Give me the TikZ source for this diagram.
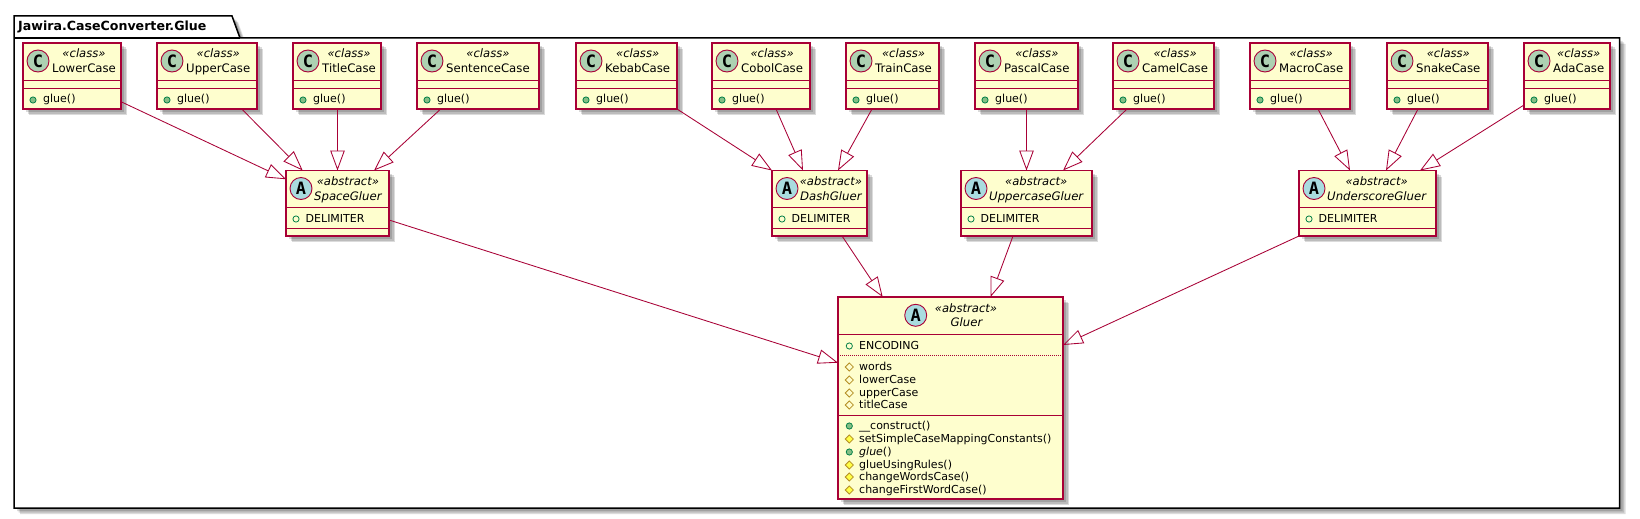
\documentclass[tikz,border=0pt]{standalone}
\usepackage{fontspec}
\setmainfont{DejaVu Sans}
\setmonofont{DejaVu Sans Mono}
\usepackage{tikz}
\usetikzlibrary{arrows.meta,backgrounds,fit,shapes.geometric}

\definecolor{umlred}{HTML}{A80036}
\definecolor{umlfill}{HTML}{FEFECE}
\definecolor{classspot}{HTML}{ADD1B2}
\definecolor{abstractspot}{HTML}{A9DCDF}
\definecolor{publine}{HTML}{038048}
\definecolor{pubfill}{HTML}{84BE84}
\definecolor{protline}{HTML}{B38D22}
\definecolor{protfill}{HTML}{FFFF44}

\tikzset{
	umlbox/.style={draw=umlred,fill=umlfill,line width=1.15pt,inner sep=0pt,outer sep=0pt},
	boxrule/.style={draw=umlred,line width=1pt},
	shadowtone/.style={fill=black,opacity=.14},
	spotbase/.style={circle,draw=umlred,line width=.9pt,minimum size=22pt,inner sep=0pt,font=\ttfamily\bfseries\fontsize{17}{17}\selectfont},
	classspotnode/.style={spotbase,fill=classspot},
	abstractspotnode/.style={spotbase,fill=abstractspot},
	classname/.style={anchor=base west,inner sep=0pt,font=\fontsize{11.7}{12}\selectfont},
	abstractname/.style={anchor=base west,inner sep=0pt,font=\itshape\fontsize{11.7}{12}\selectfont},
	stereotype/.style={anchor=base,inner sep=0pt,font=\itshape\fontsize{11.6}{12}\selectfont},
	membertext/.style={anchor=base west,inner sep=0pt,font=\fontsize{11}{12}\selectfont},
	pubfield/.style={circle,draw=publine,line width=.8pt,minimum size=6.2pt,inner sep=0pt},
	pubmethod/.style={pubfield,fill=pubfill},
	protfield/.style={diamond,aspect=1,draw=protline,line width=.8pt,minimum size=8.4pt,inner sep=0pt},
	protmethod/.style={protfield,fill=protfill},
	inherits/.style={draw=umlred,line width=.85pt,-{Triangle[open,length=20pt,width=14.5pt]}},
}

% id, left, right, name
\newcommand{\caseclass}[4]{
	\node[umlbox,fit={(#2,43) (#3,109)}] (#1) {};
	\begin{scope}[on background layer]
		\foreach \b in {3,4.5,6}
			\fill[shadowtone] ([shift={(\b,\b)}]#1.north west) rectangle ([shift={(\b,\b)}]#1.south east);
	\end{scope}
	\node[classspotnode] (#1-spot) at ([shift={(15,18)}]#1.north west) {C};
	\node[classname] (#1-name) at ([shift={(29,29.7)}]#1.north west) {#4};
	\node[stereotype] (#1-stereo) at ([yshift=15pt]#1-name.base) {«class»};
	\draw[boxrule] ([yshift=-37.5pt]#1.north west) -- ([yshift=-37.5pt]#1.north east);
	\draw[boxrule] ([yshift=-45pt]#1.north west) -- ([yshift=-45pt]#1.north east);
	\node[pubmethod] (#1-icon) at ([shift={(10,57)}]#1.north west) {};
	\node[membertext] (#1-glue) at ([shift={(20,59.5)}]#1.north west) {glue()};
}

% id, left, right, name
\newcommand{\gluerclass}[4]{
	\node[umlbox,fit={(#2,170.5) (#3,236)}] (#1) {};
	\begin{scope}[on background layer]
		\foreach \b in {3,4.5,6}
			\fill[shadowtone] ([shift={(\b,\b)}]#1.north west) rectangle ([shift={(\b,\b)}]#1.south east);
	\end{scope}
	\node[abstractspotnode] (#1-spot) at ([shift={(15,18)}]#1.north west) {A};
	\node[abstractname] (#1-name) at ([shift={(28,29.5)}]#1.north west) {#4};
	\node[stereotype] (#1-stereo) at ([yshift=14.5pt]#1-name.base) {«abstract»};
	\draw[boxrule] ([yshift=-36.5pt]#1.north west) -- ([yshift=-36.5pt]#1.north east);
	\draw[boxrule] ([yshift=-57.5pt]#1.north west) -- ([yshift=-57.5pt]#1.north east);
	\node[pubfield] (#1-icon) at ([shift={(10,48.5)}]#1.north west) {};
	\node[membertext] (#1-delimiter) at ([shift={(19.5,51.8)}]#1.north west) {DELIMITER};
}

% id, icon style, baseline, text
\newcommand{\gluermember}[4]{
	\node[#2] (#1-icon) at (849.3,#3-3) {};
	\node[membertext] (#1) at (859,#3) {#4};
}

\begin{document}
\begin{tikzpicture}[x=1pt,y=-1pt]
	\useasboundingbox (0,0) rectangle (1640,519);

	% package
	\begin{scope}[on background layer]
		\foreach \b in {3,4.5,6}
			\fill[shadowtone,shift={(\b,\b)}] (14,38) -- (14,16) -- (232,16) -- (240,38) -- (1619.5,38) -- (1619.5,508) -- (14,508) -- cycle;
		\draw[black,fill=white,line width=1.5pt] (14,38) -- (14,16) -- (232,16) -- (240,38) -- (1619.5,38) -- (1619.5,508) -- (14,508) -- cycle;
		\draw[black,line width=1.5pt] (14,38) -- (240,38);
	\end{scope}
	\node[anchor=base west,inner sep=0pt,font=\bfseries\fontsize{12.6}{13}\selectfont] (package) at (18,31) {Jawira.CaseConverter.Glue};

	% concrete classes
	\caseclass{lowercase}{23}{121}{LowerCase}
	\caseclass{uppercase}{157}{257}{UpperCase}
	\caseclass{titlecase}{293}{381}{TitleCase}
	\caseclass{sentencecase}{417}{539}{SentenceCase}
	\caseclass{kebabcase}{576}{677}{KebabCase}
	\caseclass{cobolcase}{712}{810}{CobolCase}
	\caseclass{traincase}{846}{939}{TrainCase}
	\caseclass{pascalcase}{975}{1078}{PascalCase}
	\caseclass{camelcase}{1113}{1214}{CamelCase}
	\caseclass{macrocase}{1250}{1350}{MacroCase}
	\caseclass{snakecase}{1387}{1488}{SnakeCase}
	\caseclass{adacase}{1524}{1610}{AdaCase}

	% abstract gluers
	\gluerclass{spacegluer}{286}{389}{SpaceGluer}
	\gluerclass{dashgluer}{772}{867}{DashGluer}
	\gluerclass{uppercasegluer}{961}{1092}{UppercaseGluer}
	\gluerclass{underscoregluer}{1299}{1436}{UnderscoreGluer}

	% base class
	\node[umlbox,fit={(838,297) (1063,499)}] (gluer) {};
	\begin{scope}[on background layer]
		\foreach \b in {3,4.5,6}
			\fill[shadowtone] ([shift={(\b,\b)}]gluer.north west) rectangle ([shift={(\b,\b)}]gluer.south east);
	\end{scope}
	\node[abstractspotnode] (gluer-spot) at (915.7,315.3) {A};
	\node[stereotype] (gluer-stereo) at (966,312) {«abstract»};
	\node[abstractname,anchor=base] (gluer-name) at (966.5,326.7) {Gluer};
	\draw[boxrule] ([yshift=-37pt]gluer.north west) -- ([yshift=-37pt]gluer.north east);
	\draw[umlred,line width=.5pt,dash pattern=on 1pt off 1pt] ([yshift=-58pt]gluer.north west) -- ([yshift=-58pt]gluer.north east);
	\draw[boxrule] ([yshift=-118pt]gluer.north west) -- ([yshift=-118pt]gluer.north east);
	\gluermember{encoding}{pubfield}{349}{ENCODING}
	\gluermember{words}{protfield}{370}{words}
	\gluermember{lowercasefield}{protfield}{383}{lowerCase}
	\gluermember{uppercasefield}{protfield}{396}{upperCase}
	\gluermember{titlecasefield}{protfield}{408}{titleCase}
	\gluermember{construct}{pubmethod}{429}{\_\_construct()}
	\gluermember{setconstants}{protmethod}{442}{setSimpleCaseMappingConstants()}
	\gluermember{glue}{pubmethod}{455}{\textit{glue}()}
	\gluermember{gluerules}{protmethod}{468}{glueUsingRules()}
	\gluermember{changewords}{protmethod}{480}{changeWordsCase()}
	\gluermember{changefirst}{protmethod}{493}{changeFirstWordCase()}

	% inheritance
	\draw[inherits] ([yshift=-25.7pt]lowercase.east) -- ([yshift=24pt]spacegluer.west);
	\draw[inherits] ([xshift=34.7pt]uppercase.south) -- ([xshift=-34.8pt]spacegluer.north);
	\draw[inherits] ([xshift=.5pt]titlecase.south) -- (spacegluer.north);
	\draw[inherits] ([xshift=-37.3pt]sentencecase.south) -- ([xshift=36.5pt]spacegluer.north);
	\draw[inherits] (kebabcase.south east) -- (dashgluer.north west);
	\draw[inherits] ([xshift=15pt]cobolcase.south) -- ([xshift=-16.5pt]dashgluer.north);
	\draw[inherits] ([xshift=-20.5pt]traincase.south) -- ([xshift=18.5pt]dashgluer.north);
	\draw[inherits] (pascalcase.south) -- (uppercasegluer.north);
	\draw[inherits] ([xshift=-36.5pt]camelcase.south) -- ([xshift=36.5pt]uppercasegluer.north);
	\draw[inherits] ([xshift=18pt]macrocase.south) -- ([xshift=-17.5pt]underscoregluer.north);
	\draw[inherits] ([xshift=-19.5pt]snakecase.south) -- ([xshift=18.5pt]underscoregluer.north);
	\draw[inherits] ([yshift=4pt]adacase.south west) -- ([xshift=52.5pt]underscoregluer.north);
	\draw[inherits] ([yshift=-16.75pt]spacegluer.east) -- ([yshift=35.3pt]gluer.west);
	\draw[inherits] ([xshift=22.5pt]dashgluer.south) -- ([xshift=-67.8pt]gluer.north);
	\draw[inherits] ([xshift=-13.5pt]uppercasegluer.south) -- ([xshift=40pt]gluer.north);
	\draw[inherits] (underscoregluer.south west) -- ([yshift=53pt]gluer.east);
\end{tikzpicture}
\end{document}
